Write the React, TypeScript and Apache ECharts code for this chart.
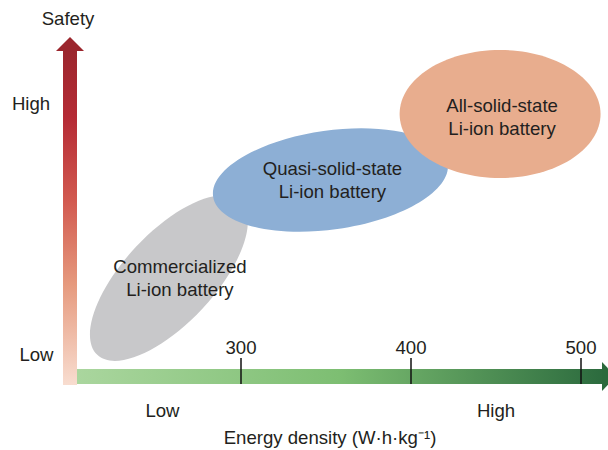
import React, { useEffect, useRef } from "react";
import * as echarts from "echarts";

// ---- data ----
const energyTicks = [300, 400, 500];
const batteryNames = [
  "Commercialized\nLi-ion battery",
  "Quasi-solid-state\nLi-ion battery",
  "All-solid-state\nLi-ion battery",
];
const energyCenters = [257.6, 352.6, 452.4];
const safetyCenters = [30.8, 59.3, 78.5];
const energyRadii = [61.8, 69.7, 59.1];
const safetyRadii = [13.2, 14.4, 18.6];
const tiltDegrees = [47, 8, 0];

// ---- styles ----
const FONT = "'Liberation Sans', Arial, Helvetica, sans-serif";
const TEXT = "#231F20";
const FS = 18.6;
const FILLS = ["#C8C8CA", "#8DAFD5", "#E8AD8E"];
const LABEL_OFFSETS = [
  [11, 0],
  [2, 0],
  [2, 3],
];

export default function App() {
  const ref = useRef<HTMLDivElement>(null);
  useEffect(() => {
    if (!ref.current) return;
    const chart = echarts.init(ref.current, null, { renderer: "svg" });
    const rows = batteryNames.map((_, i) => [
      energyCenters[i],
      safetyCenters[i],
      energyRadii[i],
      safetyRadii[i],
      tiltDegrees[i],
    ]);
    chart.setOption({
      animation: false,
      grid: { left: 71, right: 1.5, top: 40, bottom: 66 },
      xAxis: {
        type: "value",
        min: 200,
        max: 515,
        interval: 100,
        z: 10,
        axisLine: { show: false },
        splitLine: { show: false },
        axisTick: {
          show: true,
          inside: true,
          length: 26,
          customValues: energyTicks,
          lineStyle: { color: "#111", width: 1.5 },
        },
        axisLabel: {
          inside: true,
          margin: 27,
          customValues: energyTicks,
          color: TEXT,
          fontSize: FS,
          fontFamily: FONT,
        },
      },
      yAxis: { type: "value", min: 0, max: 100, show: false },
      series: [
        {
          type: "custom",
          coordinateSystem: "cartesian2d",
          encode: { x: 0, y: 1 },
          data: rows,
          z: 5,
          renderItem: (params: any, api: any) => {
            const i = params.dataIndex;
            const c = api.coord([api.value(0), api.value(1)]);
            const rx = api.size([api.value(2), 0])[0];
            const ry = api.size([0, api.value(3)])[1];
            return {
              type: "group",
              children: [
                {
                  type: "ellipse",
                  x: c[0],
                  y: c[1],
                  rotation: (api.value(4) * Math.PI) / 180,
                  shape: { cx: 0, cy: 0, rx, ry },
                  style: { fill: FILLS[i] },
                },
                {
                  type: "text",
                  x: c[0] + LABEL_OFFSETS[i][0],
                  y: c[1] + LABEL_OFFSETS[i][1],
                  style: {
                    text: batteryNames[i],
                    fill: TEXT,
                    fontSize: FS,
                    fontFamily: FONT,
                    lineHeight: 22.5,
                    align: "center",
                    verticalAlign: "middle",
                  },
                },
              ],
            };
          },
        },
      ],
    });

    const o = chart.convertToPixel({ gridIndex: 0 }, [200, 0]) as number[];
    const t = chart.convertToPixel({ gridIndex: 0 }, [200, 100]) as number[];
    const e = chart.convertToPixel({ gridIndex: 0 }, [515, 0]) as number[];
    const ox = o[0];
    const oy = o[1];
    const tipY = t[1] - 3;
    const headEnd = e[0] - 4.5;

    const txt = (text: string, x: number, y: number) => ({
      type: "text",
      x,
      y,
      z: 20,
      style: {
        text,
        fill: TEXT,
        fontSize: FS,
        fontFamily: FONT,
        align: "center",
        verticalAlign: "middle",
      },
    });

    chart.setOption({
      graphic: [
        {
          type: "rect",
          z: 1,
          shape: { x: ox - 8, y: tipY + 14, width: 14, height: oy + 1 - (tipY + 14) },
          style: {
            fill: new echarts.graphic.LinearGradient(0, 0, 0, 1, [
              { offset: 0, color: "#9B262D" },
              { offset: 0.2, color: "#B52B35" },
              { offset: 0.45, color: "#D25A50" },
              { offset: 0.7, color: "#E69A7E" },
              { offset: 1, color: "#F8DDD0" },
            ]),
          },
        },
        {
          type: "polygon",
          z: 1,
          shape: {
            points: [
              [ox - 1, tipY],
              [ox + 13, tipY + 14],
              [ox - 15, tipY + 14],
            ],
          },
          style: { fill: "#9B262D" },
        },
        {
          type: "rect",
          z: 1,
          shape: { x: ox + 6, y: oy - 15, width: headEnd - (ox + 6), height: 15 },
          style: {
            fill: new echarts.graphic.LinearGradient(0, 0, 1, 0, [
              { offset: 0, color: "#AAD69E" },
              { offset: 0.5, color: "#7DBE72" },
              { offset: 1, color: "#2C6B3E" },
            ]),
          },
        },
        {
          type: "polygon",
          z: 1,
          shape: {
            points: [
              [headEnd, oy - 22],
              [headEnd + 14, oy - 7.5],
              [headEnd, oy + 7],
            ],
          },
          style: { fill: "#2B6A3C" },
        },
        txt("Safety", ox - 3, 18),
        txt("High", 31, 103),
        txt("Low", 36.5, 354),
        txt("Low", 162.5, 410),
        txt("High", 496, 410),
        txt("Energy density (W·h·kg⁻¹)", 330, 437),
      ],
    });

    return () => chart.dispose();
  }, []);
  return (
    <div
      ref={ref}
      style={{ position: "fixed", left: 0, top: 0, width: 608, height: 450, background: "#fff" }}
    />
  );
}
